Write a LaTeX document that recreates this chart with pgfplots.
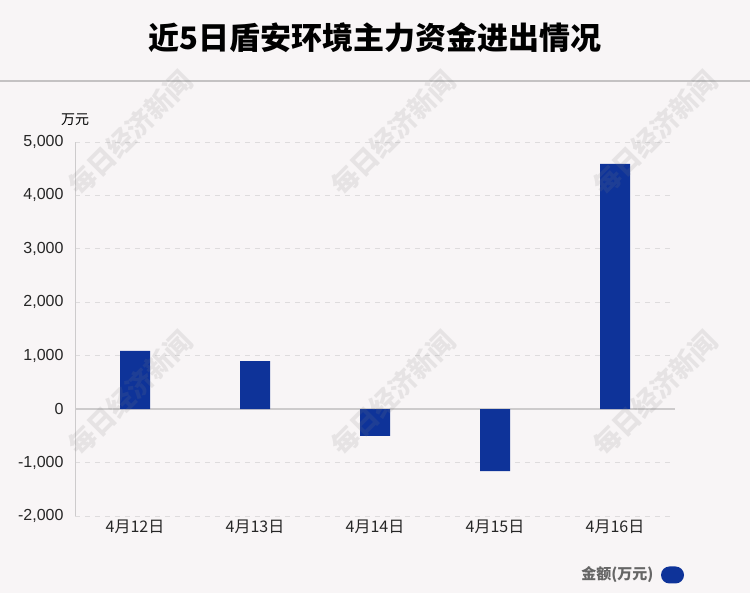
\documentclass[border=0pt]{standalone}
\usepackage{pgfplots}
\pgfplotsset{compat=1.18}
\usepackage{fontspec}
\setmainfont{Liberation Sans}
\newfontfamily\cjk{Noto Sans CJK SC}

\definecolor{bgc}{HTML}{F8F5F6}
\definecolor{barc}{HTML}{0E3399}
\definecolor{gridc}{HTML}{DEDCDD}
\definecolor{zc}{HTML}{CDCBCC}
\definecolor{sepc}{HTML}{C4C2C3}
\definecolor{legc}{HTML}{666666}

\begin{document}
\begin{tikzpicture}[x=1pt,y=1pt]
\fill[bgc] (0,0) rectangle (750,593);
\node[font=\cjk\bfseries\fontsize{31}{34}\selectfont] at (375,555) {近5日盾安环境主力资金进出情况};
\draw[sepc, line width=2pt] (0,512) -- (750,512);
\node[font=\cjk\fontsize{14}{16}\selectfont] at (75,473) {万元};

\begin{axis}[
  at={(75pt,77pt)}, anchor=south west,
  scale only axis, width=600pt, height=374pt,
  xmin=-0.5, xmax=4.5, ymin=-2000, ymax=5000,
  axis line style={draw=none},
  major tick length=0pt,
  xtick={0,1,2,3,4},
  xticklabels={4月12日,4月13日,4月14日,4月15日,4月16日},
  xticklabel style={font=\cjk\fontsize{16}{18}\selectfont, text=black!85},
  ytick={-2000,-1000,0,1000,2000,3000,4000,5000},
  yticklabels={{-2,000},{-1,000},0,{1,000},{2,000},{3,000},{4,000},{5,000}},
  yticklabel style={font=\fontsize{16}{19}\selectfont, text=black!85, xshift=-8pt},
  ymajorgrids,
  grid style={gridc, dash pattern=on 5pt off 5pt, line width=0.8pt},
  ybar, bar width=30pt, bar shift=0pt,
  clip=false,
]
\draw[zc] (axis cs:-0.5,-2000) -- (axis cs:-0.5,5000);
\draw[zc, line width=2pt] (axis cs:-0.5,0) -- (axis cs:4.5,0);
\addplot[fill=barc, draw=none] coordinates {(0,1090) (1,900) (2,-500) (3,-1160) (4,4590)};
\end{axis}

\foreach \x/\y in {130/460, 393/460, 655/460, 130/200, 393/200, 655/200}
  \node[rotate=45, font=\cjk\bfseries\fontsize{27}{30}\selectfont, text=gray, opacity=0.15] at (\x,\y) {每日经济新闻};

\node[anchor=east, font=\cjk\bfseries\fontsize{15}{18}\selectfont, text=legc] at (657,18) {金额(万元)};
\fill[barc, rounded corners=8.5pt] (661,9.5) rectangle (684,26.5);

\pgfresetboundingbox
\useasboundingbox (0,0) rectangle (750,593);
\end{tikzpicture}
\end{document}
